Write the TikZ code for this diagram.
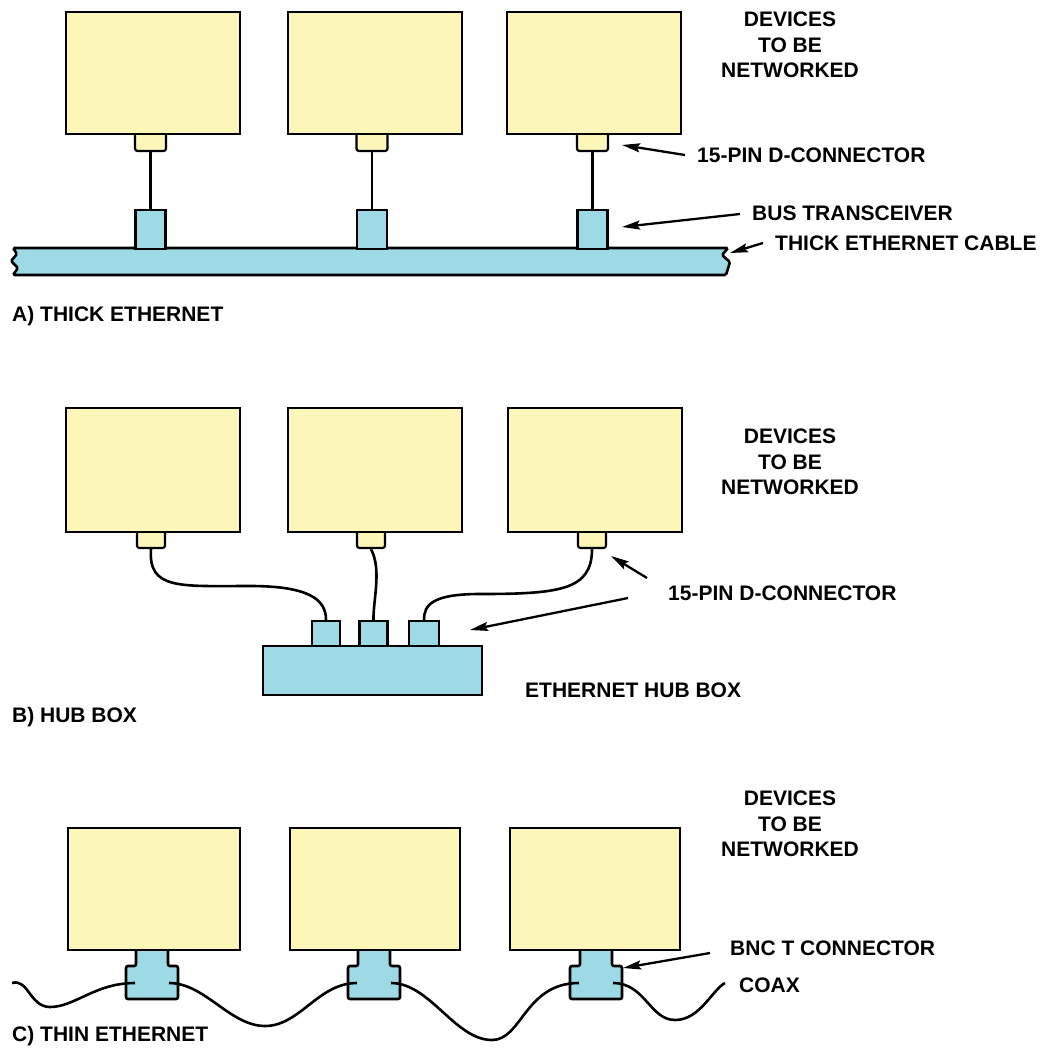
\documentclass[tikz,border=0pt]{standalone}
\usepackage{fontspec}
\setmainfont{Liberation Sans}
\usetikzlibrary{arrows.meta}
\definecolor{devyellow}{RGB}{252,247,185}
\definecolor{cabcyan}{RGB}{158,218,230}
\tikzset{
  dev/.style={draw, line width=2.6pt, fill=devyellow, inner sep=0pt},
  pinbox/.style={draw, line width=2.2pt, fill=devyellow, inner sep=0pt, rounded corners=2.5pt},
  port/.style={draw, line width=2.4pt, fill=cabcyan, inner sep=0pt},
  wire/.style={line width=2.6pt},
  pointer/.style={line width=2.3pt, -{Stealth[length=18pt,width=9pt,inset=3pt]}},
  lbl/.style={font=\fontsize{21}{25.5}\selectfont\bfseries, inner sep=0pt, anchor=base west},
  devlbl/.style={font=\fontsize{21}{25.5}\selectfont\bfseries, inner sep=0pt, align=center},
}
\begin{document}
\begin{tikzpicture}[x=1pt,y=-1pt]
\useasboundingbox (0,0) rectangle (1055,1047);

% ================= A) THICK ETHERNET =================
\node[pinbox, minimum width=31pt, minimum height=21pt] (pa1) at (150.5,140.5) {};
\node[pinbox, minimum width=31pt, minimum height=21pt] (pa2) at (372,140.5) {};
\node[pinbox, minimum width=31pt, minimum height=21pt] (pa3) at (592.5,140.5) {};
\node[dev, minimum width=174pt, minimum height=122pt] (da1) at (153,73) {};
\node[dev, minimum width=174pt, minimum height=122pt] (da2) at (375,73) {};
\node[dev, minimum width=174pt, minimum height=122pt] (da3) at (594,73) {};

\draw[wire, fill=cabcyan, rounded corners=1.5pt]
  (13,248) -- (728,248) -- (722,255) -- (730,262) -- (726,275)
  -- (13,275) -- (18,268) -- (11,261) -- (17,254) -- cycle;

\node[port, minimum width=30pt, minimum height=39pt] (ta1) at (150.5,229.5) {};
\node[port, minimum width=30pt, minimum height=39pt] (ta2) at (372,229.5) {};
\node[port, minimum width=30pt, minimum height=39pt] (ta3) at (592.5,229.5) {};
\draw[wire] (pa1.south) -- (ta1.north);
\draw[wire] (pa2.south) -- (ta2.north);
\draw[wire] (pa3.south) -- (ta3.north);

\node[devlbl] (devA) at (790,45) {DEVICES\\TO BE\\NETWORKED};
\node[lbl] (lpinA) at (697,162.5) {15-PIN D-CONNECTOR};
\node[lbl] (lbus) at (752,220.5) {BUS TRANSCEIVER};
\node[lbl] (lcable) at (775,250.5) {THICK ETHERNET CABLE};
\node[lbl] (titA) at (12,321.5) {A) THICK ETHERNET};

\coordinate (tailA1) at (685,155); \coordinate (tipA1) at (622,145);
\coordinate (tailA2) at (740,214); \coordinate (tipA2) at (622,227);
\coordinate (tailA3) at (763,243); \coordinate (tipA3) at (730,253);
\draw[pointer] (tailA1) -- (tipA1);
\draw[pointer] (tailA2) -- (tipA2);
\draw[pointer] (tailA3) -- (tipA3);

% ================= B) HUB BOX =================
\node[pinbox, minimum width=28pt, minimum height=20pt] (pb1) at (151,538) {};
\node[pinbox, minimum width=28pt, minimum height=20pt] (pb2) at (371,538) {};
\node[pinbox, minimum width=28pt, minimum height=20pt] (pb3) at (592,538) {};
\node[dev, minimum width=174pt, minimum height=124pt] (db1) at (153,470) {};
\node[dev, minimum width=174pt, minimum height=124pt] (db2) at (375,470) {};
\node[dev, minimum width=174pt, minimum height=124pt] (db3) at (595,470) {};

\node[port, minimum width=28pt, minimum height=27pt] (hp1) at (326,634.5) {};
\node[port, minimum width=28pt, minimum height=27pt] (hp2) at (373.5,634.5) {};
\node[port, minimum width=30pt, minimum height=27pt] (hp3) at (424,634.5) {};
\node[port, minimum width=219pt, minimum height=49pt] (hub) at (372.5,670.5) {};

\draw[wire] (pb1.south) .. controls (148,590) and (180,586) .. (250,586)
  .. controls (310,586) and (326,600) .. (hp1.north);
\draw[wire] (pb2.south) .. controls (382,570) and (373,600) .. (hp2.north);
\draw[wire] (pb3.south) .. controls (592,590) and (560,594) .. (480,594)
  .. controls (432,594) and (424,605) .. (hp3.north);

\node[devlbl] (devB) at (790,462) {DEVICES\\TO BE\\NETWORKED};
\node[lbl] (lpinB) at (668,600.5) {15-PIN D-CONNECTOR};
\node[lbl] (lhub) at (525,697.5) {ETHERNET HUB BOX};
\node[lbl] (titB) at (12,722.5) {B) HUB BOX};

\coordinate (tailB1) at (647,578); \coordinate (tipB1) at (611,556);
\coordinate (tailB2) at (628,598); \coordinate (tipB2) at (470,630);
\draw[pointer] (tailB1) -- (tipB1);
\draw[pointer] (tailB2) -- (tipB2);

% ================= C) THIN ETHERNET =================
\foreach \cx/\n in {152/1,374/2,596/3}{
  \draw[line width=2.6pt, fill=cabcyan, rounded corners=2pt]
    (\cx-16,944) -- (\cx-16,966) -- (\cx-26,966) -- (\cx-26,999)
    -- (\cx+26,999) -- (\cx+26,966) -- (\cx+16,966) -- (\cx+16,944) -- cycle;
  \coordinate (bl\n) at (\cx-17,983);
  \coordinate (br\n) at (\cx+17,983);
}
\node[dev, minimum width=172pt, minimum height=122pt] (dc1) at (154,889) {};
\node[dev, minimum width=170pt, minimum height=122pt] (dc2) at (375,889) {};
\node[dev, minimum width=170pt, minimum height=122pt] (dc3) at (595,889) {};

\coordinate (cl) at (12,983);
\coordinate (cr) at (725,983);
\draw[wire] (cl) .. controls (28,978) and (30,1007) .. (50,1007)
  .. controls (75,1007) and (95,983) .. (bl1);
\draw[wire] (br1) .. controls (205,983) and (230,1026) .. (265,1026)
  .. controls (300,1026) and (318,983) .. (bl2);
\draw[wire] (br2) .. controls (430,983) and (455,1040) .. (492,1040)
  .. controls (522,1040) and (525,983) .. (bl3);
\draw[wire] (br3) .. controls (645,983) and (650,1020) .. (675,1020)
  .. controls (700,1020) and (712,990) .. (cr);

\node[devlbl] (devC) at (790,824) {DEVICES\\TO BE\\NETWORKED};
\node[lbl] (lbnc) at (730,955.5) {BNC T CONNECTOR};
\node[lbl] (lcoax) at (739,992.5) {COAX};
\node[lbl] (titC) at (12,1041.5) {C) THIN ETHERNET};

\coordinate (tailC1) at (710,953); \coordinate (tipC1) at (623,968);
\draw[pointer] (tailC1) -- (tipC1);
\end{tikzpicture}
\end{document}
